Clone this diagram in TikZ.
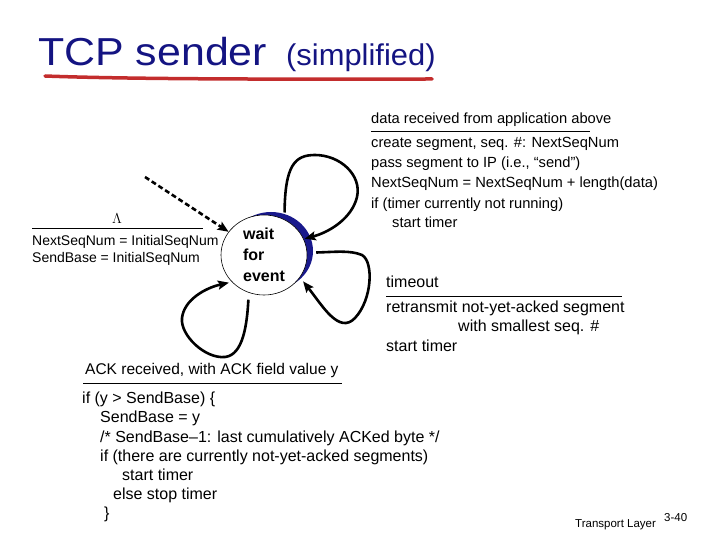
\documentclass[tikz,border=0pt]{standalone}
\usepackage{fontspec}
\setmainfont{Liberation Sans}
\usetikzlibrary{arrows.meta,shapes.geometric}
\definecolor{titleblue}{RGB}{20,20,130}
\definecolor{ulred}{RGB}{195,45,45}
\definecolor{shadeblue}{RGB}{25,25,140}
\begin{document}
\begin{tikzpicture}[x=1pt,y=-1pt,
  txt/.style={anchor=base west, inner sep=0pt, font=\fontsize{14.7}{18}\selectfont},
  txtL/.style={txt, font=\fontsize{14}{17}\selectfont},
  txtT/.style={txt, font=\fontsize{16}{19}\selectfont},
  txtA/.style={txt, font=\fontsize{15.5}{19}\selectfont},
  txtC/.style={txt, font=\fontsize{16}{19}\selectfont},
  rule/.style={line width=1pt},
  conn/.style={line width=2.6pt, -{Stealth[length=11pt,width=9pt,inset=2pt]}},
  dconn/.style={conn, dash pattern=on 5pt off 3pt}]
\useasboundingbox (0,0) rectangle (720,540);
% title
\node[anchor=base west, inner sep=0pt, text=titleblue, font=\fontsize{39}{44}\selectfont, xscale=1.1, transform shape] (title) at (38,66) {TCP sender};
\node[anchor=base west, inner sep=0pt, text=titleblue, font=\fontsize{30}{34}\selectfont, xscale=1.03, transform shape] (sub) at (286,66) {(simplified)};
\draw[ulred, line width=3.5pt, line cap=round] (45,76) .. controls (150,80) and (350,79) .. (432,79);
% state
\fill[shadeblue] (271,251) ellipse [x radius=42pt, y radius=39pt];
\node[draw, ellipse, fill=white, line width=0.6pt, minimum width=86pt, minimum height=80pt, inner sep=0pt,
      align=left, font=\bfseries\fontsize{16}{21}\selectfont] (w) at (264,255) {wait\\for\\event};
% initial arrow
\coordinate (d0) at (145,177);
\draw[dconn] (d0) -- (w);
% loops
\draw[conn, shorten <=7pt, shorten >=1pt] (w.60) .. controls (285,165) and (295,155) .. (315,155)
   .. controls (340,155) and (362,175) .. (357,197) .. controls (352,218) and (330,232) .. (w.22);
\draw[conn, shorten <=9pt, shorten >=5pt] (w.3) .. controls (335,252) and (350,250) .. (362,255)
   .. controls (374,262) and (372,300) .. (355,318) .. controls (339,335) and (322,305) .. (w.-32);
\draw[conn, shorten <=7pt, shorten >=3pt] (w.-112) .. controls (247,325) and (243,355) .. (225,357)
   .. controls (205,359) and (180,335) .. (182,318) .. controls (184,300) and (205,288) .. (w.-140);
% left label
\node[anchor=base, inner sep=0pt, font=\fontsize{15}{18}\selectfont] (lam) at (117,224) {$\Lambda$};
\draw[rule] (32,229) -- (203,229);
\node[txtL] (l1) at (32,245) {NextSeqNum = InitialSeqNum};
\node[txtL] (l2) at (32,262) {SendBase = InitialSeqNum};
% top right label
\node[txt] (r0) at (371,124) {data received from application above};
\draw[rule] (371,132) -- (590,132);
\node[txt] (r1) at (371,148) {create segment, seq. \#: NextSeqNum};
\node[txt] (r2) at (371,168) {pass segment to IP (i.e., “send”)};
\node[txt] (r3) at (371,188) {NextSeqNum = NextSeqNum + length(data)};
\node[txt] (r4) at (371,208) {if (timer currently not running)};
\node[txt] (r5) at (392,228) {start timer};
% timeout label
\node[txtT] (t0) at (386,287) {timeout};
\draw[rule] (386,296) -- (622,296);
\node[txtT] (t1) at (386,312) {retransmit not-yet-acked segment};
\node[txtT] (t2) at (458,331) {with smallest seq. \#};
\node[txtT] (t3) at (386,351) {start timer};
% ACK label
\node[txtA] (a0) at (85,374) {ACK received, with ACK field value y};
\draw[rule] (83,383) -- (342,383);
\node[txtC] (c1) at (82,403) {if (y > SendBase) \{};
\node[txtC] (c2) at (100,422) {SendBase = y};
\node[txtC] (c3) at (100,442) {/* SendBase–1: last cumulatively ACKed byte */};
\node[txtC] (c4) at (100,461) {if (there are currently not-yet-acked segments)};
\node[txtC] (c5) at (122,480) {start timer};
\node[txtC] (c6) at (113,499) {else stop timer};
\node[txtC] (c7) at (104,518) {\}};
% footer
\node[anchor=base west, inner sep=0pt, font=\fontsize{11.5}{13}\selectfont] (f1) at (575,527) {Transport Layer};
\node[anchor=base west, inner sep=0pt, font=\fontsize{11.5}{13}\selectfont] (f2) at (664,521) {3-40};
\end{tikzpicture}
\end{document}
